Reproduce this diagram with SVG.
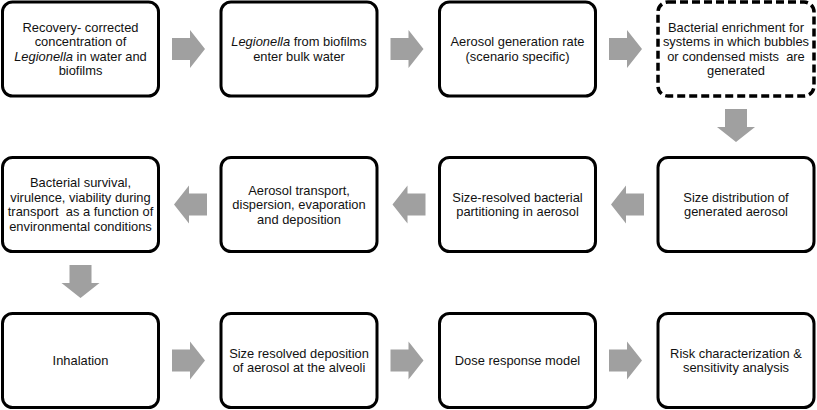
<svg xmlns="http://www.w3.org/2000/svg" width="817" height="410" viewBox="0 0 817 410">
<style>
.box{fill:#fff;stroke:#000;stroke-width:3}
.dash{stroke-dasharray:8 4;stroke-width:3.5}
text{font-family:"Liberation Sans",Arial,sans-serif;font-size:12.9px;fill:#111;text-anchor:middle;white-space:pre}
.arr{fill:#a0a0a0}
</style>
<defs>
<path id="ar" d="M0,-11 H18 V-19 L33,0 L18,19 V11 H0 Z"/>
<path id="al" d="M33,-11 H15 V-19 L0,0 L15,19 V11 H33 Z"/>
<path id="ad" d="M-11,0 V18 H-19 L0,33 L19,18 H11 V0 Z"/>
</defs>
<rect width="817" height="410" fill="#fff"/>
<g id="connectors" class="arr">
<use href="#ar" x="172" y="49"/>
<use href="#ar" x="390.5" y="49"/>
<use href="#ar" x="609" y="49"/>
<use href="#ad" x="736" y="109"/>
<use href="#al" x="611" y="204.5"/>
<use href="#al" x="392.5" y="204.5"/>
<use href="#al" x="174" y="204.5"/>
<use href="#ad" x="80.5" y="265"/>
<use href="#ar" x="172" y="360.5"/>
<use href="#ar" x="390.5" y="360.5"/>
<use href="#ar" x="609" y="360.5"/>
</g>
<g id="n1">
<rect class="box" x="2.5" y="2" width="156" height="94" rx="10"/>
<text x="80.5" y="31.6">Recovery- corrected</text>
<text x="80.5" y="46.2">concentration of</text>
<text x="80.5" y="60.8"><tspan font-style="italic">Legionella</tspan> in water and</text>
<text x="80.5" y="75.4">biofilms</text>
</g>
<g id="n2">
<rect class="box" x="221" y="2" width="156" height="94" rx="10"/>
<text x="299" y="46.2"><tspan font-style="italic">Legionella</tspan> from biofilms</text>
<text x="299" y="60.8">enter bulk water</text>
</g>
<g id="n3">
<rect class="box" x="439.5" y="2" width="156" height="94" rx="10"/>
<text x="517.5" y="46.2">Aerosol generation rate</text>
<text x="517.5" y="60.8">(scenario specific)</text>
</g>
<g id="n4">
<rect class="box dash" x="658" y="2" width="156" height="94" rx="10"/>
<text x="736" y="31.6">Bacterial enrichment for</text>
<text x="736" y="46.2">systems in which bubbles</text>
<text x="736" y="60.8">or condensed mists  are</text>
<text x="736" y="75.4">generated</text>
</g>
<g id="n5">
<rect class="box" x="658" y="157.5" width="156" height="94" rx="10"/>
<text x="736" y="201.7">Size distribution of</text>
<text x="736" y="216.3">generated aerosol</text>
</g>
<g id="n6">
<rect class="box" x="439.5" y="157.5" width="156" height="94" rx="10"/>
<text x="517.5" y="201.7">Size-resolved bacterial</text>
<text x="517.5" y="216.3">partitioning in aerosol</text>
</g>
<g id="n7">
<rect class="box" x="221" y="157.5" width="156" height="94" rx="10"/>
<text x="299" y="194.5">Aerosol transport,</text>
<text x="299" y="209">dispersion, evaporation</text>
<text x="299" y="223.5">and deposition</text>
</g>
<g id="n8">
<rect class="box" x="2.5" y="157.5" width="156" height="94" rx="10"/>
<text x="80.5" y="187.1">Bacterial survival,</text>
<text x="80.5" y="201.7">virulence, viability during</text>
<text x="80.5" y="216.3">transport  as a function of</text>
<text x="80.5" y="230.9">environmental conditions</text>
</g>
<g id="n9">
<rect class="box" x="2.5" y="313.5" width="156" height="94" rx="10"/>
<text x="80.5" y="365">Inhalation</text>
</g>
<g id="n10">
<rect class="box" x="221" y="313.5" width="156" height="94" rx="10"/>
<text x="299" y="357.7">Size resolved deposition</text>
<text x="299" y="372.3">of aerosol at the alveoli</text>
</g>
<g id="n11">
<rect class="box" x="439.5" y="313.5" width="156" height="94" rx="10"/>
<text x="517.5" y="365">Dose response model</text>
</g>
<g id="n12">
<rect class="box" x="658" y="313.5" width="156" height="94" rx="10"/>
<text x="736" y="357.7">Risk characterization &amp;</text>
<text x="736" y="372.3">sensitivity analysis</text>
</g>
</svg>
